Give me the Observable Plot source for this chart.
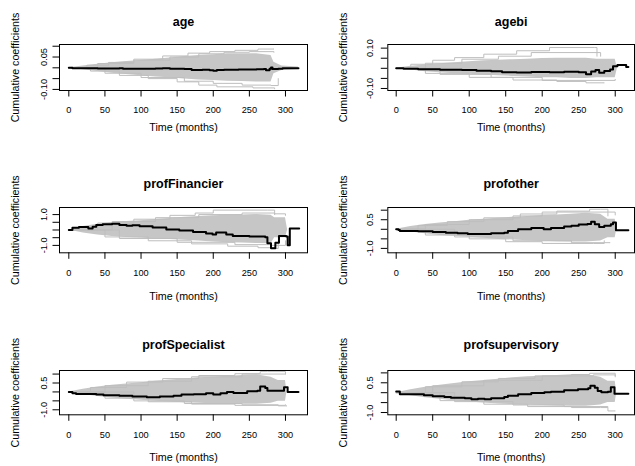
<!DOCTYPE html>
<html><head><meta charset="utf-8">
<script src="https://cdn.jsdelivr.net/npm/d3@7"></script>
<script src="https://cdn.jsdelivr.net/npm/@observablehq/plot@0.6"></script>
<style>
html,body{margin:0;padding:0;background:#fff;}
#chart{position:relative;width:635px;height:466px;overflow:hidden;background:#fff;}
#chart > div{position:absolute;}
</style></head><body><div id="chart"></div>
<script>
// ---------- shared labels / ticks ----------
const titles = ["age","agebi","profFinancier","profother","profSpecialist","profsupervisory"];
const xLabel = "Time (months)";
const yLabel = "Cumulative coefficients";
const xTicks = [0,50,100,150,200,250,300];
const smallYTicks = [-0.10,-0.05,0,0.05,0.10];
const largeYTicks = [-1.0,-0.5,0,0.5,1.0];
const ageYLabels   = ["-0.10","","","0.05",""];
const agebiYLabels = ["-0.10","","","","0.10"];
const finYLabels   = ["-1.0","","","","1.0"];
const othYLabels   = ["-1.0","","","0.5",""];
const specYLabels  = ["-1.0","","","0.5",""];
const supYLabels   = ["-1.0","","","0.5",""];
const ageYDomain = [-0.105,0.108];
const agebiYDomain = [-0.11,0.118];
const finYDomain = [-1.48,1.46];
const othYDomain = [-1.23,1.14];
const specYDomain = [-1.28,1.2];
const supYDomain = [-1.115,1.12];

// ---------- age ----------
const ageCoef = [[0,0],[5,-0.002],[40,-0.003],[70,-0.002],[75,-0.004],[120,-0.003],[130,-0.002],[140,-0.004],[160,-0.006],[170,-0.010],[185,-0.009],[195,-0.011],[200,-0.014],[205,-0.010],[215,-0.009],[235,-0.008],[260,-0.007],[270,-0.006],[273,-0.011],[278,-0.004],[280,0.002],[282,-0.006],[290,-0.004],[296,-0.002],[318,-0.002]];
const ageBandT  = [0,20,40,60,80,100,120,140,160,180,200,220,240,260,280,284,295,318];
const ageBandHi = [0,0.009,0.017,0.023,0.029,0.034,0.040,0.046,0.052,0.057,0.060,0.065,0.065,0.065,0.057,0.026,0.008,0.004];
const ageBandLo = [0,-0.009,-0.017,-0.025,-0.031,-0.037,-0.042,-0.046,-0.052,-0.056,-0.059,-0.062,-0.063,-0.066,-0.066,-0.028,-0.012,-0.008];
const ageSimA = [[0,0],[25,0.012],[55,0.025],[90,0.04],[130,0.055],[165,0.068],[195,0.075],[230,0.081],[262,0.087],[284,0.087]];
const ageSimB = [[0,0],[30,-0.015],[70,-0.035],[110,-0.05],[150,-0.065],[180,-0.08],[205,-0.088],[255,-0.093],[285,-0.097]];
const ageSimC = [[0,0],[40,0.02],[90,0.035],[140,0.05],[180,0.065],[215,0.072],[250,0.075],[284,0.072]];
const ageSimD = [[0,0],[50,-0.025],[100,-0.045],[160,-0.062],[200,-0.072],[240,-0.08],[280,-0.082],[290,-0.05]];

// ---------- agebi ----------
const agebiCoef = [[0,0],[10,-0.002],[30,-0.005],[60,-0.007],[90,-0.009],[110,-0.012],[130,-0.015],[145,-0.019],[165,-0.021],[185,-0.018],[210,-0.019],[230,-0.017],[250,-0.020],[260,-0.030],[267,-0.016],[273,-0.008],[278,-0.022],[285,-0.013],[293,-0.006],[297,0.010],[303,0.017],[315,0.007],[318,0.007]];
const agebiBandT  = [0,20,40,60,80,100,120,140,160,180,200,220,240,260,275,300,303];
const agebiBandHi = [0,0.010,0.017,0.023,0.028,0.033,0.037,0.040,0.043,0.045,0.048,0.050,0.050,0.050,0.045,0.045,0];
const agebiBandLo = [0,-0.008,-0.017,-0.022,-0.027,-0.030,-0.033,-0.037,-0.040,-0.043,-0.047,-0.047,-0.050,-0.050,-0.047,-0.047,0];
const agebiSimA = [[0,0],[20,0.02],[50,0.04],[80,0.053],[120,0.07],[165,0.087],[210,0.103],[272,0.103],[275,0.06]];
const agebiSimB = [[0,0],[40,0.025],[90,0.045],[140,0.06],[185,0.078],[275,0.078],[280,0.06]];
const agebiSimC = [[0,0],[40,-0.025],[100,-0.045],[160,-0.058],[220,-0.065],[260,-0.072],[285,-0.072]];
const agebiSimD = [[0,0],[60,-0.03],[130,-0.045],[200,-0.06],[275,-0.06],[300,-0.055]];

// ---------- profFinancier ----------
const finCoef = [[0,0],[5,0.15],[14,0.19],[27,0.09],[33,0.21],[38,0.32],[47,0.37],[60,0.41],[70,0.32],[80,0.28],[88,0.30],[98,0.24],[116,0.17],[135,0.04],[153,-0.04],[172,-0.13],[190,-0.22],[199,-0.30],[204,-0.17],[218,-0.30],[227,-0.39],[250,-0.43],[272,-0.47],[275,-0.86],[280,-1.18],[286,-0.82],[291,-0.39],[301,-0.43],[303,-0.99],[306,0.09],[319,0.09]];
const finBandT  = [0,20,40,60,80,100,120,140,160,180,200,220,240,260,280,285,300,303];
const finBandHi = [0,0.22,0.38,0.48,0.55,0.60,0.68,0.75,0.82,0.88,0.92,0.95,0.98,1.0,0.95,0.8,0.8,0];
const finBandLo = [0,-0.2,-0.33,-0.42,-0.48,-0.52,-0.58,-0.62,-0.66,-0.72,-0.78,-0.82,-0.85,-0.88,-0.9,-0.5,-0.5,0];
const finSimA = [[0,0],[40,0.45],[90,0.7],[140,0.95],[175,1.1],[200,1.29],[275,1.29],[285,1.0]];
const finSimB = [[0,0],[50,-0.45],[110,-0.7],[170,-0.9],[220,-1.05],[262,-1.15],[285,-1.2],[290,-0.8]];
const finSimC = [[0,0],[60,0.55],[120,0.8],[180,1.0],[240,1.1],[285,1.05],[300,0.95]];
const finSimD = [[0,0],[70,-0.55],[150,-0.8],[230,-0.95],[280,-1.0],[300,-0.7]];

// ---------- profother ----------
const othCoef = [[0,0],[3,-0.04],[5,-0.09],[30,-0.1],[50,-0.14],[68,-0.18],[84,-0.21],[98,-0.25],[130,-0.21],[148,-0.18],[153,-0.09],[167,0],[185,0.07],[202,0],[212,0.07],[230,0.14],[240,0.18],[250,0.25],[262,0.28],[267,0.39],[272,0.26],[278,0.12],[285,0.18],[294,0.26],[297,0.35],[301,-0.05],[318,-0.05]];
const othBandT  = [0,20,40,60,80,100,120,140,160,180,200,220,240,260,280,290,300,302];
const othBandHi = [0,0.14,0.25,0.33,0.40,0.47,0.53,0.58,0.63,0.67,0.72,0.75,0.79,0.84,0.79,0.53,0.53,0];
const othBandLo = [0,-0.14,-0.23,-0.32,-0.37,-0.42,-0.47,-0.53,-0.56,-0.6,-0.63,-0.65,-0.67,-0.67,-0.61,-0.44,-0.44,0];
const othSimA = [[0,0],[30,0.2],[70,0.4],[120,0.6],[170,0.8],[220,0.95],[265,1.05],[280,1.05],[290,0.7]];
const othSimB = [[0,0],[40,0.25],[100,0.5],[160,0.7],[200,0.9],[275,0.9],[300,0.75]];
const othSimC = [[0,0],[40,-0.3],[100,-0.5],[150,-0.65],[200,-0.74],[270,-0.74],[285,-0.6]];
const othSimD = [[0,0],[80,-0.4],[160,-0.6],[240,-0.7],[285,-0.7],[293,-0.7]];

// ---------- profSpecialist ----------
const specCoef = [[0,0],[5,-0.07],[10,-0.11],[38,-0.15],[48,-0.19],[70,-0.22],[88,-0.26],[108,-0.30],[126,-0.26],[145,-0.22],[156,-0.15],[173,-0.13],[190,-0.07],[200,-0.15],[210,-0.07],[219,0],[228,-0.06],[247,0.04],[261,0.07],[265,0.30],[272,0.22],[275,0.07],[293,0.07],[298,0.26],[303,0],[318,0]];
const specBandT  = [0,20,40,60,80,100,120,140,160,180,200,220,240,260,280,290,300,302];
const specBandHi = [0,0.15,0.28,0.37,0.45,0.52,0.60,0.67,0.73,0.79,0.82,0.88,0.92,0.96,0.82,0.64,0.64,0];
const specBandLo = [0,-0.15,-0.26,-0.34,-0.41,-0.47,-0.52,-0.56,-0.6,-0.64,-0.66,-0.67,-0.69,-0.69,-0.64,-0.52,-0.52,0];
const specSimA = [[0,0],[30,0.25],[80,0.55],[130,0.75],[180,0.92],[230,1.02],[265,1.14],[275,1.14],[300,1.0]];
const specSimB = [[0,0],[50,0.35],[110,0.6],[170,0.85],[240,1.0],[300,1.0]];
const specSimC = [[0,0],[50,-0.35],[110,-0.55],[170,-0.68],[230,-0.75],[300,-0.72]];
const specSimD = [[0,0],[90,-0.5],[160,-0.65],[240,-0.72],[290,-0.78],[302,-0.78]];

// ---------- profsupervisory ----------
const supCoef = [[0,0.06],[5,-0.08],[38,-0.13],[50,-0.18],[66,-0.22],[75,-0.25],[94,-0.28],[103,-0.33],[112,-0.30],[121,-0.33],[130,-0.28],[148,-0.22],[153,-0.15],[167,-0.08],[185,-0.02],[203,0.02],[212,0.05],[230,0.12],[249,0.18],[263,0.22],[266,0.35],[272,0.25],[276,0.08],[281,0.02],[290,0.05],[294,0.28],[299,-0.05],[318,-0.05]];
const supBandT  = [0,20,40,60,80,100,120,140,160,180,200,220,240,260,280,290,300,302];
const supBandHi = [0,0.15,0.28,0.38,0.47,0.55,0.62,0.68,0.75,0.8,0.83,0.87,0.9,0.92,0.78,0.58,0.58,0];
const supBandLo = [0,-0.15,-0.25,-0.33,-0.4,-0.47,-0.52,-0.57,-0.6,-0.63,-0.65,-0.67,-0.68,-0.68,-0.62,-0.5,-0.5,0];
const supSimA = [[0,0],[40,0.3],[90,0.55],[140,0.72],[190,0.85],[240,0.92],[265,0.98],[282,0.98],[300,0.8]];
const supSimB = [[0,0],[60,-0.4],[120,-0.58],[180,-0.7],[240,-0.75],[280,-0.75],[290,-0.92],[300,-0.92]];
const supSimC = [[0,0],[50,0.35],[120,0.62],[200,0.85],[270,0.9],[300,0.85]];
const supSimD = [[0,0],[80,-0.45],[160,-0.62],[230,-0.7],[290,-0.72]];

// ---------- layout (pixel geometry of the small-multiples grid) ----------
const colLeft = [0, 318];
const colMarginLeft = [59, 69.3];
const colMarginRight = [10, 1];
const colXDomain = [[-12.9, 330.5], [-11.5, 326.4]];
const colYTickPad = [6.2, 8.7];
const rowTop = [0, 162.7, 325.7];
const rowBoxH = [46, 45.3, 44.3];
const rowXLabDy = [37, 44, 43];
const rowTitleDy = [-23, -23, -25];

const panelDefs = [
  {title: titles[0], coef: ageCoef, bt: ageBandT, bh: ageBandHi, bl: ageBandLo, sims: [ageSimA, ageSimB, ageSimC, ageSimD], yd: ageYDomain, yt: smallYTicks, yl: ageYLabels},
  {title: titles[1], coef: agebiCoef, bt: agebiBandT, bh: agebiBandHi, bl: agebiBandLo, sims: [agebiSimA, agebiSimB, agebiSimC, agebiSimD], yd: agebiYDomain, yt: smallYTicks, yl: agebiYLabels},
  {title: titles[2], coef: finCoef, bt: finBandT, bh: finBandHi, bl: finBandLo, sims: [finSimA, finSimB, finSimC, finSimD], yd: finYDomain, yt: largeYTicks, yl: finYLabels},
  {title: titles[3], coef: othCoef, bt: othBandT, bh: othBandHi, bl: othBandLo, sims: [othSimA, othSimB, othSimC, othSimD], yd: othYDomain, yt: largeYTicks, yl: othYLabels},
  {title: titles[4], coef: specCoef, bt: specBandT, bh: specBandHi, bl: specBandLo, sims: [specSimA, specSimB, specSimC, specSimD], yd: specYDomain, yt: largeYTicks, yl: specYLabels},
  {title: titles[5], coef: supCoef, bt: supBandT, bh: supBandHi, bl: supBandLo, sims: [supSimA, supSimB, supSimC, supSimD], yd: supYDomain, yt: largeYTicks, yl: supYLabels}
];

const chart = document.getElementById("chart");
const FONT = "'Liberation Sans', Arial, Helvetica, sans-serif";

panelDefs.forEach((p, k) => {
  const col = k % 2, row = Math.floor(k / 2);
  const mt = 44, mb = 50;
  const band = p.bt.map((t, i) => ({t, hi: p.bh[i], lo: p.bl[i]}));
  const sims = p.sims.flatMap((s, j) => s.map(([t, v]) => ({t, v, id: j})));
  const coef = p.coef.map(([t, v]) => ({t, v}));
  const fmt = d => { const i = p.yt.findIndex(v => Math.abs(v - d) < 1e-9); return i < 0 ? "" : p.yl[i]; };
  const svg = Plot.plot({
    width: 317,
    height: mt + rowBoxH[row] + mb,
    marginTop: mt, marginBottom: mb,
    marginLeft: colMarginLeft[col], marginRight: colMarginRight[col],
    x: {domain: colXDomain[col], axis: null},
    y: {domain: p.yd, axis: null},
    style: {fontFamily: FONT, fontSize: "9.2px", color: "#000", background: "transparent", overflow: "visible"},
    marks: [
      Plot.areaY(band, {x: "t", y1: "lo", y2: "hi", fill: "#c6c6c6", curve: "linear"}),
      Plot.lineY(sims, {x: "t", y: "v", z: "id", stroke: "#bebebe", strokeWidth: 1, curve: "step-after"}),
      Plot.lineY(coef, {x: "t", y: "v", stroke: "#000", strokeWidth: 2, curve: "step-after"}),
      Plot.frame({stroke: "#000", strokeWidth: 1}),
      Plot.axisX({ticks: xTicks, label: null, tickSize: 6.5, tickPadding: 9.7, tickFormat: d => String(d)}),
      Plot.axisY({ticks: p.yt, label: null, tickSize: 6.5, tickPadding: colYTickPad[col], tickRotate: -90, tickFormat: fmt}),
      Plot.text([p.title], {text: d => d, frameAnchor: "top", lineAnchor: "middle", textAnchor: "middle", dy: rowTitleDy[row], fontWeight: "bold", fontSize: 12.5}),
      Plot.text([xLabel], {text: d => d, frameAnchor: "bottom", lineAnchor: "middle", textAnchor: "middle", dy: rowXLabDy[row], fontSize: 10.7}),
      Plot.text([yLabel], {text: d => d, frameAnchor: "left", lineAnchor: "middle", textAnchor: "middle", dx: -44, rotate: -90, fontSize: 10.7})
    ]
  });
  const wrap = document.createElement("div");
  wrap.style.left = colLeft[col] + "px";
  wrap.style.top = rowTop[row] + "px";
  wrap.appendChild(svg);
  chart.appendChild(wrap);
});
</script></body></html>
